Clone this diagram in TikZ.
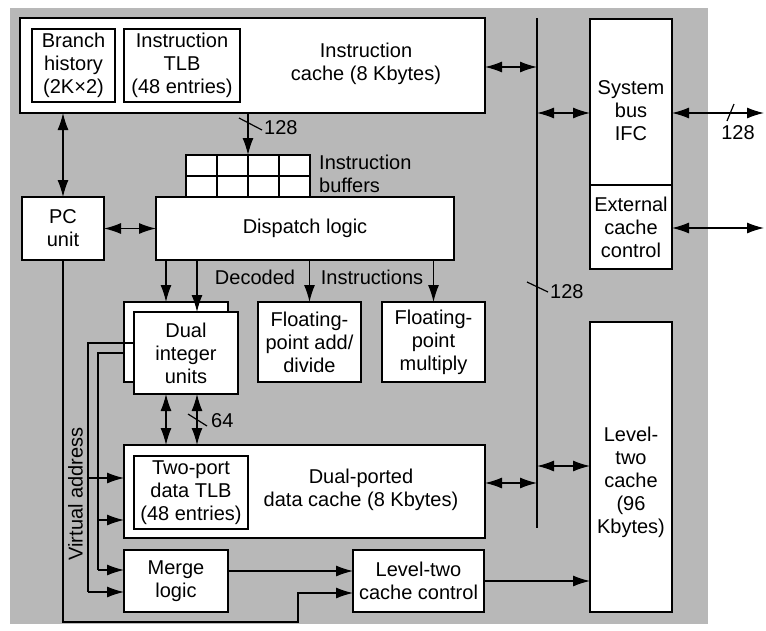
\documentclass[tikz,border=0pt]{standalone}
\usepackage{fontspec}
\setmainfont{Liberation Sans}
\usetikzlibrary{arrows.meta}
\newcommand\dfont{\fontsize{20}{23}\selectfont}
\definecolor{bggray}{gray}{0.72}
\begin{document}
\begin{tikzpicture}[x=1pt,y=-1pt,
  box/.style={draw, fill=white, line width=1.5pt, inner sep=0pt, outer sep=0pt, align=center, font=\dfont},
  wire/.style={line width=1.2pt},
  arr/.style={wire, -{Latex[length=17pt,width=11pt]}},
  dbl/.style={wire, {Latex[length=17pt,width=11pt]}-{Latex[length=17pt,width=11pt]}},
  lbl/.style={font=\dfont, align=center, inner sep=0pt}]
\useasboundingbox (0,0) rectangle (766,630);
\fill[bggray] (10,8) rectangle (708,624);

% boxes
\node[box, minimum width=465pt, minimum height=95pt] (icache) at (252.5,65.5) {};
\node[lbl] (icachet) at (366,64) {Instruction\\cache (8 Kbytes)};
\node[box, minimum width=83pt, minimum height=73pt] (bh) at (73.5,65.5) {Branch\\history\\(2K×2)};
\node[box, minimum width=116pt, minimum height=73pt] (itlb) at (182,65.5) {Instruction\\TLB\\(48 entries)};

\node[box, minimum width=124pt, minimum height=42pt] (ibuf) at (248,176) {};
\foreach \x in {217,248,279} \draw[wire] (\x,155) -- (\x,197);
\draw[wire] (186,176) -- (310,176);
\node[lbl, anchor=west, align=left] (ibuft) at (319,174) {Instruction\\buffers};

\node[box, minimum width=298pt, minimum height=63pt] (disp) at (305,228.5) {Dispatch logic};
\node[box, minimum width=82pt, minimum height=63pt] (pc) at (63,228.5) {PC\\unit};

\node[box, minimum width=104pt, minimum height=80pt] (dualb) at (176,342) {};
\node[box, minimum width=104pt, minimum height=82pt] (dualf) at (186,353) {Dual\\integer\\units};
\node[box, minimum width=103pt, minimum height=80pt] (fpadd) at (309.5,342) {Floating-\\point add/\\divide};
\node[box, minimum width=103pt, minimum height=80pt] (fpmul) at (433.5,342) {Floating-\\point\\multiply};

\node[box, minimum width=361pt, minimum height=93pt] (dcache) at (304.5,491.5) {};
\node[lbl] (dcachet) at (361,490) {Dual-ported\\data cache (8 Kbytes)};
\node[box, minimum width=114pt, minimum height=73pt] (dtlb) at (191,492.5) {Two-port\\data TLB\\(48 entries)};

\node[box, minimum width=104pt, minimum height=62pt] (merge) at (176,581) {Merge\\logic};
\node[box, minimum width=131pt, minimum height=62pt] (l2ctl) at (418.5,581) {Level-two\\cache control};

\node[box, minimum width=82pt, minimum height=166pt] (ifc) at (631,102) {};
\node[lbl] (ifct) at (631,111) {System\\bus\\IFC};
\node[box, minimum width=82pt, minimum height=84pt] (ecc) at (631,227) {External\\cache\\control};
\node[box, minimum width=82pt, minimum height=290pt] (l2) at (631,467) {};
\node[lbl] (l2t) at (631,482) {Level-\\two\\cache\\(96\\Kbytes)};

% bus
\coordinate (bustop) at (537,18);
\coordinate (busbot) at (537,528);
\draw[line width=1.4pt] (bustop) -- (busbot);
\coordinate (b1) at (537,67);
\coordinate (b2) at (537,113);
\coordinate (b3) at (537,483);
\coordinate (b4) at (537,466);
\draw[dbl] (icache.east |- b1) -- (b1);
\draw[dbl] (b2) -- (ifc.west |- b2);
\draw[dbl] (dcache.east |- b3) -- (b3);
\draw[dbl] (b4) -- (l2.west |- b4);
\draw[wire] (527,282) -- (548,292);
\node[lbl, anchor=west] (bus128) at (550,292) {128};

% external
\coordinate (ext1) at (764,113);
\coordinate (ext2) at (764,228);
\draw[dbl] (ifc.east |- ext1) -- (ext1);
\draw[dbl] (ecc.east |- ext2) -- (ext2);
\draw[wire] (727,121) -- (734,104);
\node[lbl] (ext128) at (738,133) {128};

% instruction cache to buffers
\draw[arr] (ibuf.north |- icache.south) -- (ibuf.north);
\draw[wire] (239,118) -- (262,130);
\node[lbl, anchor=west] (ib128) at (264,128) {128};

% branch history / PC
\draw[dbl] (pc.north |- icache.south) -- (pc.north);
\draw[dbl] (pc.east) -- (disp.west);

% dispatch outputs
\draw[arr] ([xshift=-10pt]dualb.north |- disp.south) -- ([xshift=-10pt]dualb.north);
\draw[arr] ([xshift=11pt]dualf.north |- disp.south) -- ([xshift=11pt]dualf.north);
\draw[arr] (fpadd.north |- disp.south) -- (fpadd.north);
\draw[arr] (fpmul.north |- disp.south) -- (fpmul.north);
\node[lbl] (dec) at (255,277) {Decoded};
\node[lbl] (ins) at (372,277) {Instructions};

% dual integer to data cache
\draw[dbl] ([xshift=-20pt]dualf.south) -- ([xshift=-20pt]dualf.south |- dcache.north);
\draw[dbl] ([xshift=11pt]dualf.south) -- ([xshift=11pt]dualf.south |- dcache.north);
\draw[wire] (188,414) -- (207,426);
\node[lbl, anchor=west] (d64) at (211,421) {64};

% virtual address wires
\coordinate (wa) at (88,592);
\coordinate (wa1) at (88,478);
\coordinate (wb) at (98,570);
\coordinate (wb1) at (98,520);
\draw[wire] ([yshift=10pt]dualf.west) -| (wa);
\draw[arr] (wa) -- (wa -| merge.west);
\draw[arr] (wa1) -- (wa1 -| dcache.west);
\draw[wire] ([yshift=-11pt]dualb.west) -| (wb);
\draw[arr] (wb) -- (wb -| merge.west);
\draw[arr] (wb1) -- (wb1 -| dcache.west);
\node[lbl, rotate=90] (va) at (75.5,494) {Virtual address};

% PC to level-two cache control
\coordinate (pcb) at (298,622);
\draw[arr] (pc.south) |- (pcb) |- ([yshift=-12pt]l2ctl.west);

% merge, l2 control
\draw[arr] ([yshift=10pt]merge.east) -- ([yshift=10pt]merge.east -| l2ctl.west);
\draw[arr] (l2ctl.east) -- (l2ctl.east -| l2.west);
\end{tikzpicture}
\end{document}
